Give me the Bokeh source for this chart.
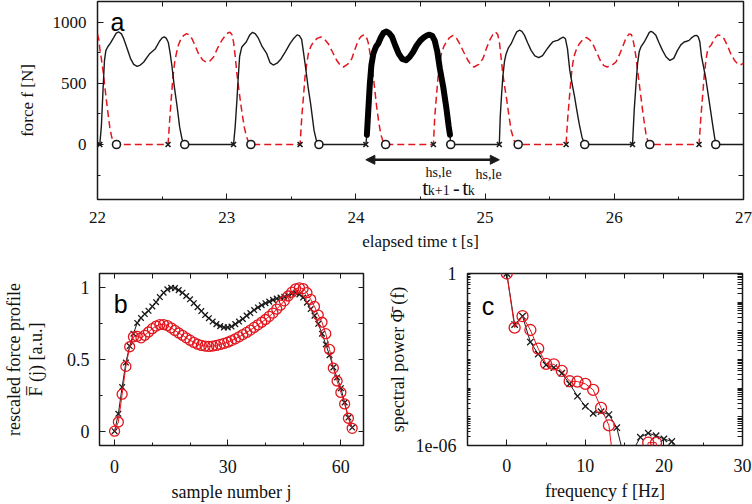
from bokeh.plotting import figure
from bokeh.models import (Range1d, SingleIntervalTicker, FixedTicker, LinearAxis, LogAxis,
                          Label, Arrow, NormalHead)
from bokeh.layouts import column, row
from bokeh.embed import file_html
from bokeh.resources import INLINE

# ---------------- panel a : force time series (one cycle per line) ----------------
black_t = [22.000, 22.018, 22.030, 22.042, 22.054, 22.065, 22.080, 22.100, 22.125, 22.145, 22.165, 22.185, 22.203, 22.228, 22.255, 22.280, 22.306, 22.332, 22.358, 22.404, 22.448, 22.480, 22.500, 22.517, 22.533, 22.548, 22.562, 22.577, 22.595, 22.615, 22.636, 22.655, 22.675,
           23.053, 23.066, 23.079, 23.090, 23.100, 23.117, 23.151, 23.178, 23.200, 23.222, 23.245, 23.275, 23.310, 23.335, 23.360, 23.390, 23.420, 23.455, 23.490, 23.520, 23.545, 23.562, 23.580, 23.595, 23.610, 23.630, 23.650, 23.676, 23.695, 23.714,
           24.077, 24.085, 24.097, 24.108, 24.120, 24.135, 24.155, 24.172, 24.195, 24.215, 24.236, 24.258, 24.280, 24.305, 24.331, 24.358, 24.388, 24.415, 24.443, 24.470, 24.500, 24.525, 24.550, 24.570, 24.590, 24.610, 24.630, 24.650, 24.676, 24.700, 24.718, 24.728, 24.734,
           25.110, 25.117, 25.127, 25.137, 25.150, 25.163, 25.180, 25.202, 25.225, 25.245, 25.265, 25.285, 25.305, 25.330, 25.356, 25.385, 25.415, 25.445, 25.472, 25.500, 25.523, 25.545, 25.562, 25.585, 25.605, 25.622, 25.638, 25.655, 25.673, 25.691, 25.710, 25.730, 25.750, 25.771,
           26.141, 26.154, 26.167, 26.180, 26.193, 26.206, 26.232, 26.255, 26.270, 26.283, 26.300, 26.322, 26.347, 26.373, 26.400, 26.430, 26.460, 26.489, 26.515, 26.541, 26.560, 26.579, 26.600, 26.620, 26.637, 26.650, 26.662, 26.675, 26.690, 26.708, 26.728, 26.745, 26.760, 26.772, 26.785, 27.000]
black_f = [0, 0, 150, 430, 689, 770, 800, 830, 875, 912, 921, 905, 866, 790, 705, 655, 639, 650, 675, 743, 784, 845, 872, 880, 868, 835, 750, 634, 470, 320, 142, 40, 0,
           0, 150, 361, 560, 720, 798, 839, 895, 918, 905, 870, 800, 743, 670, 650, 665, 700, 760, 825, 870, 897, 890, 860, 750, 634, 470, 330, 115, 30, 0,
           0, 80, 300, 497, 650, 743, 800, 825, 880, 915, 925, 910, 880, 810, 743, 700, 689, 715, 757, 810, 852, 875, 893, 898, 890, 850, 760, 620, 470, 300, 150, 80, 0,
           0, 224, 400, 552, 680, 743, 790, 825, 880, 922, 935, 925, 893, 830, 770, 725, 710, 728, 770, 810, 839, 848, 852, 868, 878, 865, 780, 610, 500, 400, 280, 160, 60, 0,
           0, 279, 480, 661, 760, 798, 839, 885, 915, 926, 917, 893, 830, 770, 718, 688, 705, 770, 815, 839, 845, 852, 875, 890, 893, 880, 840, 720, 640, 540, 400, 280, 170, 87, 0, 0]

red_t = [22.000, 22.010, 22.018, 22.030, 22.044, 22.056, 22.069, 22.082, 22.095, 22.108, 22.121, 22.135, 22.147,
         22.546, 22.555, 22.564, 22.574, 22.584, 22.597, 22.610, 22.625, 22.641, 22.665, 22.690, 22.712, 22.731, 22.755, 22.782, 22.815, 22.847, 22.872, 22.898, 22.930, 22.962, 22.992, 23.012, 23.025, 23.040, 23.053, 23.066, 23.079, 23.092, 23.105, 23.120, 23.136, 23.152, 23.169, 23.187,
         23.568, 23.575, 23.581, 23.594, 23.606, 23.619, 23.632, 23.650, 23.671, 23.700, 23.728, 23.757, 23.786, 23.820, 23.851, 23.878, 23.903, 23.935, 23.968, 23.995, 24.018, 24.040, 24.060, 24.075, 24.088, 24.097, 24.110, 24.122, 24.135, 24.148, 24.161, 24.176, 24.192, 24.210, 24.230,
         24.600, 24.605, 24.610, 24.623, 24.636, 24.649, 24.662, 24.680, 24.700, 24.725, 24.752, 24.778, 24.803, 24.835, 24.867, 24.892, 24.915, 24.950, 24.983, 25.010, 25.035, 25.060, 25.080, 25.098, 25.112, 25.125, 25.137, 25.152, 25.168, 25.185, 25.202, 25.225, 25.256,
         25.627, 25.633, 25.640, 25.653, 25.666, 25.678, 25.691, 25.710, 25.730, 25.757, 25.783, 25.808, 25.833, 25.865, 25.897, 25.920, 25.945, 25.980, 26.013, 26.040, 26.064, 26.090, 26.115, 26.130, 26.141, 26.155, 26.168, 26.180, 26.193, 26.206, 26.219, 26.232, 26.245, 26.260, 26.275,
         26.656, 26.663, 26.670, 26.683, 26.695, 26.708, 26.720, 26.735, 26.750, 26.775, 26.800, 26.825, 26.849, 26.875, 26.901, 26.930, 26.960, 26.985, 27.000]
red_f = [905, 860, 784, 700, 595, 480, 361, 250, 142, 70, 19, 5, 0,
         0, 140, 279, 420, 552, 670, 743, 810, 852, 890, 907, 895, 866, 810, 743, 690, 672, 685, 716, 790, 852, 895, 915, 918, 900, 839, 720, 579, 470, 361, 250, 142, 70, 19, 0,
         0, 120, 224, 390, 552, 660, 743, 800, 839, 868, 880, 862, 825, 755, 689, 650, 634, 655, 702, 785, 852, 885, 896, 890, 860, 825, 740, 650, 552, 430, 306, 190, 87, 25, 0,
         0, 110, 224, 390, 552, 660, 743, 800, 839, 875, 893, 870, 825, 755, 689, 650, 634, 655, 702, 785, 852, 900, 921, 900, 825, 700, 579, 470, 361, 230, 115, 30, 0,
         0, 110, 224, 390, 552, 660, 730, 790, 825, 860, 876, 858, 825, 750, 675, 645, 634, 648, 675, 735, 798, 870, 905, 900, 880, 800, 716, 610, 497, 390, 279, 180, 87, 25, 0,
         0, 110, 224, 390, 552, 680, 760, 795, 815, 865, 897, 890, 866, 810, 743, 690, 652, 655, 665]

hs_black = [22.018, 23.053, 24.077, 25.110, 26.141]   # heel strikes (x)
le_black = [22.675, 23.714, 24.734, 25.771, 26.785]   # leave events (o)
hs_red = [22.546, 23.568, 24.600, 25.627, 26.656]
le_red = [22.147, 23.187, 24.230, 25.256, 26.275]
thick_from, thick_to = 24.085, 24.728                  # highlighted stance
arrow_level = -125

# ---------------- panel b : rescaled force profile ----------------
sample_j = list(range(64))
profile_black = [0.000, 0.121, 0.308, 0.479, 0.594, 0.680, 0.755, 0.790, 0.817, 0.840,
                 0.870, 0.900, 0.936, 0.966, 0.989, 1.000, 0.998, 0.984, 0.966, 0.943,
                 0.920, 0.893, 0.865, 0.838, 0.810, 0.788, 0.765, 0.747, 0.733, 0.724,
                 0.724, 0.730, 0.747, 0.765, 0.783, 0.806, 0.824, 0.845, 0.863, 0.879,
                 0.893, 0.904, 0.916, 0.925, 0.932, 0.938, 0.947, 0.959, 0.966, 0.954,
                 0.932, 0.897, 0.852, 0.806, 0.749, 0.680, 0.605, 0.530, 0.445, 0.375,
                 0.300, 0.200, 0.095, 0.025]
profile_red = [0.000, 0.064, 0.258, 0.452, 0.589, 0.658, 0.662, 0.651, 0.669, 0.692,
               0.715, 0.733, 0.744, 0.744, 0.737, 0.721, 0.703, 0.685, 0.669, 0.651,
               0.635, 0.619, 0.607, 0.598, 0.594, 0.591, 0.594, 0.598, 0.605, 0.612,
               0.621, 0.632, 0.644, 0.658, 0.674, 0.689, 0.705, 0.724, 0.742, 0.760,
               0.779, 0.801, 0.824, 0.852, 0.879, 0.909, 0.943, 0.970, 0.993, 1.000,
               0.995, 0.966, 0.920, 0.870, 0.810, 0.760, 0.680, 0.570, 0.440, 0.350,
               0.270, 0.190, 0.090, 0.020]

# ---------------- panel c : spectral power ----------------
freq_black = list(range(23))
power_black = [1.0, 1.66e-2, 3.24e-2, 4.07e-3, 1.55e-3, 6.46e-4, 5.25e-4, 3.31e-4, 1.41e-4, 5.25e-5,
               2.34e-5, 1.32e-5, 1.51e-5, 1.20e-5, 4.17e-6, 3.2e-7, 6.3e-7, 1.95e-6, 2.69e-6, 2.19e-6,
               1.70e-6, 1.38e-6, 3.2e-7]
freq_red = list(range(21))
power_red = [1.0, 1.29e-2, 3.24e-2, 1.07e-2, 2.40e-3, 7.08e-4, 6.76e-4, 3.98e-4, 1.74e-4, 1.70e-4,
             1.41e-4, 8.71e-5, 2.04e-5, 5.01e-6, 2.5e-8, 1e-8, 1e-8, 3.2e-8, 1.26e-6, 1.26e-6,
             3.2e-8]

SERIF = "Liberation Serif"
SANS = "Liberation Sans"
INK = "#1a1a1a"
TXT = "#111111"
RED = "#e3161e"


def style_axis(ax, ticker, size="17px", standoff=10, label_standoff=8):
    ax.ticker = ticker
    ax.axis_line_color = None
    ax.major_tick_in = 6
    ax.major_tick_out = 0
    ax.minor_tick_in = 3
    ax.minor_tick_out = 0
    ax.major_tick_line_color = INK
    ax.minor_tick_line_color = INK
    ax.major_label_text_font = SERIF
    ax.major_label_text_font_size = size
    ax.major_label_text_color = TXT
    ax.major_label_standoff = standoff
    ax.axis_label_text_font = SERIF
    ax.axis_label_text_font_size = size
    ax.axis_label_text_font_style = "normal"
    ax.axis_label_text_color = TXT
    ax.axis_label_standoff = label_standoff


def mirror_axis(p, positions, side, log=False):
    # tick-only mirror axis (gnuplot style box), no labels at all
    ax = LogAxis() if log else LinearAxis()
    ax.ticker = FixedTicker(ticks=[], minor_ticks=positions)
    ax.axis_line_color = None
    ax.minor_tick_in = 5
    ax.minor_tick_out = 0
    ax.major_tick_in = 0
    ax.major_tick_out = 0
    ax.minor_tick_line_color = INK
    ax.major_label_standoff = 0
    p.add_layout(ax, side)


def make_fig(w, h, xr, yr, left, right, top, bottom, ylog=False):
    p = figure(width=w, height=h, x_range=xr, y_range=yr,
               y_axis_type="log" if ylog else "linear",
               output_backend="svg", toolbar_location=None,
               min_border_left=left, min_border_right=right,
               min_border_top=top, min_border_bottom=bottom)
    p.xgrid.visible = False
    p.ygrid.visible = False
    p.outline_line_color = INK
    p.outline_line_width = 1.5
    p.background_fill_color = "white"
    p.border_fill_color = "white"
    return p


# ---------- panel a ----------
pa = make_fig(752, 258, Range1d(22, 27), Range1d(-450, 1170), 97, 9, 1, 59)
style_axis(pa.xaxis[0], SingleIntervalTicker(interval=1, num_minor_ticks=2), standoff=12, label_standoff=6)
style_axis(pa.yaxis[0], SingleIntervalTicker(interval=500, num_minor_ticks=2), standoff=11, label_standoff=13)
pa.xaxis[0].axis_label = "elapsed time t [s]"
pa.yaxis[0].axis_label = "force f [N]"
mirror_axis(pa, [22 + 0.5 * k for k in range(11)], "above")
mirror_axis(pa, [-250 + 250 * k for k in range(6)], "right")

pa.line(red_t, red_f, line_color=RED, line_width=1.5, line_dash="7 4")
pa.line(black_t, black_f, line_color=INK, line_width=1.4)
i0, i1 = black_t.index(thick_from), black_t.index(thick_to) + 1
pa.line(black_t[i0:i1], black_f[i0:i1], line_color="black", line_width=6,
        line_join="round", line_cap="round")
zeros5 = [0] * 5
pa.scatter(hs_black + hs_red, zeros5 + zeros5, marker="x", size=7, line_color=INK, line_width=1.6)
pa.scatter(le_black + le_red, zeros5 + zeros5, marker="circle", size=8, line_color=INK,
           fill_color="white", line_width=1.6)
pa.add_layout(Arrow(start=NormalHead(size=9, fill_color=INK, line_color=INK),
                    end=NormalHead(size=9, fill_color=INK, line_color=INK),
                    x_start=hs_black[2], y_start=arrow_level,
                    x_end=hs_black[3], y_end=arrow_level,
                    line_color=INK, line_width=2.5))

annot = [  # text, x, y (baseline), size
    ("t", 24.513, -352, "22px"),
    ("k+1", 24.556, -377, "14px"),
    ("hs,le", 24.539, -227, "14px"),
    ("-", 24.752, -352, "20px"),
    ("t", 24.823, -352, "22px"),
    ("k", 24.866, -377, "14px"),
    ("hs,le", 24.926, -246, "14px"),
]
for txt, x, y, sz in annot:
    pa.add_layout(Label(x=x, y=y, text=txt, text_font=SERIF, text_font_size=sz,
                        text_color=TXT, text_baseline="alphabetic"))
pa.add_layout(Label(x=22.10, y=1000, text="a", text_font=SANS, text_font_size="25px",
                    text_color="black", text_baseline="alphabetic"))

# ---------- panel b ----------
pb = make_fig(375, 246, Range1d(-4, 66), Range1d(-0.1, 1.1), 97, 12, 15, 57)
style_axis(pb.xaxis[0], SingleIntervalTicker(interval=30, num_minor_ticks=3), size="18px",
           standoff=14, label_standoff=6)
style_axis(pb.yaxis[0], SingleIntervalTicker(interval=0.5, num_minor_ticks=2), size="18px",
           standoff=10, label_standoff=18)
pb.yaxis[0].axis_label_text_line_height = 1.1
pb.xaxis[0].axis_label = "sample number j"
pb.yaxis[0].axis_label = "rescaled force profile\nF\u0305 (j) [a.u.]"
mirror_axis(pb, [10 * k for k in range(7)], "above")
mirror_axis(pb, [0.25 * k for k in range(5)], "right")

pb.line(sample_j, profile_black, line_color=INK, line_width=1)
pb.scatter(sample_j, profile_black, marker="x", size=8, line_color=INK, line_width=1.3)
pb.line(sample_j, profile_red, line_color=RED, line_width=1)
pb.scatter(sample_j, profile_red, marker="circle", size=10, line_color=RED, fill_color=None,
           line_width=1.3)
pb.add_layout(Label(x=-0.2, y=0.889, text="b", text_font=SANS, text_font_size="25px",
                    text_color="black", text_baseline="alphabetic"))

# ---------- panel c ----------
pc = make_fig(377, 246, Range1d(-5, 30), Range1d(1e-6, 1), 92, 10, 14, 56, ylog=True)
decades = [10.0 ** d for d in range(-6, 1)]
minors = [k * 10.0 ** d for d in range(-6, 0) for k in range(2, 10)]
style_axis(pc.xaxis[0], SingleIntervalTicker(interval=10, num_minor_ticks=2), size="18px",
           standoff=13, label_standoff=6)
style_axis(pc.yaxis[0], FixedTicker(ticks=[decades[0], decades[-1]], minor_ticks=decades[1:-1] + minors),
           size="18px", standoff=11, label_standoff=5)
pc.yaxis[0].major_label_overrides = {decades[0]: "1e-06", decades[-1]: "1"}
pc.xaxis[0].axis_label = "frequency f [Hz]"
pc.yaxis[0].axis_label = "spectral power \u03A6\u0304 (f)"
mirror_axis(pc, [-5 + 5 * k for k in range(8)], "above")
mirror_axis(pc, decades + minors, "right", log=True)

pc.line(freq_black, power_black, line_color=INK, line_width=1)
pc.scatter(freq_black, power_black, marker="x", size=9, line_color=INK, line_width=1.3)
pc.line(freq_red, power_red, line_color=RED, line_width=1)
pc.scatter(freq_red, power_red, marker="circle", size=11, line_color=RED, fill_color=None,
           line_width=1.3)
pc.add_layout(Label(x=-3.2, y=0.076, text="c", text_font=SANS, text_font_size="25px",
                    text_color="black", text_baseline="alphabetic"))

layout = column(pa, row(pb, pc))
open("out.html", "w").write(file_html(layout, INLINE))
